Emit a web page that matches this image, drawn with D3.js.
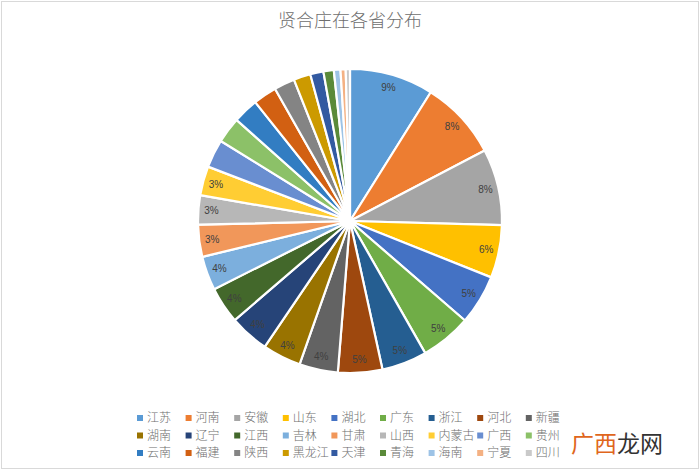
<!DOCTYPE html>
<html><head><meta charset="utf-8">
<script src="https://cdn.jsdelivr.net/npm/d3@7/dist/d3.min.js"></script>
<style>body{margin:0;background:#fff}svg{display:block}</style>
</head><body><svg id="c" width="700" height="471"></svg>
<script>
const title = "贤合庄在各省分布";
const provinces = ["江苏","河南","安徽","山东","湖北","广东","浙江","河北","新疆","湖南","辽宁","江西","吉林","甘肃","山西","内蒙古","广西","贵州","云南","福建","陕西","黑龙江","天津","青海","海南","宁夏","四川"];
const values = [8.9,8.4,8.1,5.6,5.3,5.4,4.8,4.7,4.1,4.1,4.2,3.9,3.6,3.4,3.1,3.1,3.0,2.75,2.7,2.5,2.2,1.8,1.4,1.1,0.7,0.55,0.45];
const labelCount = 16;
const colors = ["#5B9BD5","#ED7D31","#A5A5A5","#FFC000","#4472C4","#70AD47","#255E91","#9E480E","#636363","#997300","#264478","#43682B","#7CAFDD","#F1975A","#B7B7B7","#FFCD33","#698ED0","#8CC168","#327DC2","#D26012","#848484","#CC9A00","#335AA1","#5A8A39","#9DC3E6","#F4B183","#C9C9C9"];

const svg = d3.select("#c");
svg.append("rect").attr("x",1.5).attr("y",1.5).attr("width",697).attr("height",467)
  .attr("fill","#fff").attr("stroke","#d9d9d9").attr("stroke-width",1);

svg.append("text").attr("x",350).attr("y",27).attr("text-anchor","middle")
  .attr("font-family","'Noto Sans CJK SC'").attr("font-weight",300).attr("font-size",18).attr("fill","#6e6e6e").text(title);

const cx = 350, cy = 221, R = 152;
const total = d3.sum(values);
const data = provinces.map((p,i)=>({name:p, value:values[i], color:colors[i], i}));
const pie = d3.pie().sort(null).value(d=>d.value);
const arcs = pie(data);
const arc = d3.arc().innerRadius(0).outerRadius(R);
const g = svg.append("g").attr("transform",`translate(${cx},${cy})`);
g.selectAll("path").data(arcs).join("path")
  .attr("d",arc).attr("fill",d=>d.data.color).attr("stroke","#fff").attr("stroke-width",2.2).attr("stroke-linejoin","round");
const larc = d3.arc().innerRadius(139).outerRadius(139);
g.selectAll("text.lab").data(arcs.filter(d=>d.data.i<labelCount)).join("text")
  .attr("class","lab")
  .attr("transform",d=>`translate(${larc.centroid(d)})`)
  .attr("text-anchor","middle").attr("dy","0.35em")
  .attr("font-family","'Liberation Sans', Arial, sans-serif").attr("font-size",10).attr("fill","#404040")
  .text(d=>Math.round(d.data.value/total*100)+"%");

// legend
const cols = 9, x0 = 137, stepX = 48.6, y0 = 418, stepY = 17.5;
const lg = svg.append("g");
const items = lg.selectAll("g").data(data).join("g")
  .attr("transform",d=>`translate(${x0 + (d.i%cols)*stepX},${y0 + Math.floor(d.i/cols)*stepY})`);
items.append("rect").attr("x",0).attr("y",-3).attr("width",6).attr("height",6).attr("fill",d=>d.color);
items.append("text").attr("x",10).attr("y",0).attr("dy","0.36em")
  .attr("font-family","'Noto Sans CJK SC'").attr("font-weight",300).attr("font-size",12).attr("fill","#6e6e6e").text(d=>d.name);

// watermark
const wm = svg.append("text").attr("x",571).attr("y",452)
  .attr("font-family","'Noto Sans CJK SC'").attr("font-size",23);
wm.append("tspan").attr("fill","#E0661C").text("广西");
wm.append("tspan").attr("fill","#333").text("龙网");
</script></body></html>
